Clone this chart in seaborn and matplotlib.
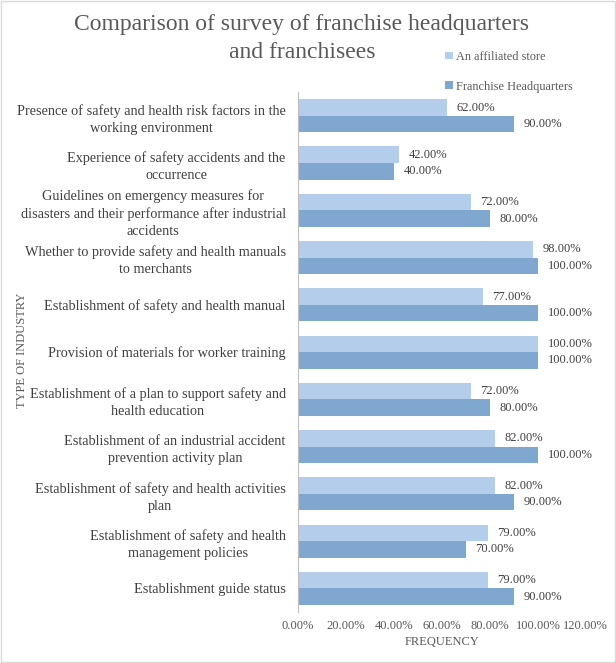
import matplotlib
matplotlib.use("Agg")
import matplotlib.pyplot as plt
import seaborn as sns
import pandas as pd
import numpy as np
from matplotlib.ticker import FuncFormatter, FixedLocator
from matplotlib.patches import Patch

categories = [
    "Presence of safety and health risk factors in the\nworking environment",
    "Experience of safety accidents and the\noccurrence",
    "Guidelines on emergency measures for\ndisasters and their performance after industrial\naccidents",
    "Whether to provide safety and health manuals\nto merchants",
    "Establishment of safety and health manual",
    "Provision of materials for worker training",
    "Establishment of a plan to support safety and\nhealth education",
    "Establishment of an industrial accident\nprevention activity plan",
    "Establishment of safety and health activities\nplan",
    "Establishment of safety and health\nmanagement policies",
    "Establishment guide status",
]
affiliated = [62, 42, 72, 98, 77, 100, 72, 82, 82, 79, 79]
headquarters = [90, 40, 80, 100, 100, 100, 80, 100, 90, 70, 90]
series_names = ["An affiliated store", "Franchise Headquarters"]
x_ticks = [0, 20, 40, 60, 80, 100, 120]
title_lines = ["Comparison of survey of franchise headquarters", "and franchisees"]

df = pd.DataFrame({
    "category": categories * 2,
    "value": affiliated + headquarters,
    "series": [series_names[0]] * len(categories) + [series_names[1]] * len(categories),
})

sns.set_theme(style="white")
plt.rcParams["font.family"] = ["Liberation Serif", "DejaVu Serif"]

colors = {series_names[0]: "#B4CDEA", series_names[1]: "#7FA7CF"}
fig = plt.figure(figsize=(6.16, 6.63), dpi=100)
ax = fig.add_axes([0.484, 0.077, 0.467, 0.784])

sns.barplot(data=df, x="value", y="category", hue="series", hue_order=series_names,
            palette=colors, orient="h", width=0.7, ax=ax, legend=False,
            saturation=1, linewidth=0)

ax.set_xlim(0, 120)
ax.xaxis.set_major_locator(FixedLocator(x_ticks))
ax.xaxis.set_major_formatter(FuncFormatter(lambda v, p: f"{v:.2f}%"))
ax.tick_params(axis="x", labelsize=9, colors="#595959", length=0, pad=6)
ax.tick_params(axis="y", labelsize=10.3, colors="#404040", length=0, pad=9)
for lab in ax.get_yticklabels():
    lab.set_horizontalalignment("right")
    lab.set_multialignment("center")
    lab.set_linespacing(1.4)

# boundary ticks on the y axis
n = len(categories)
ax.set_yticks(np.arange(-0.5, n, 1), minor=True)
ax.tick_params(axis="y", which="minor", length=4, color="#BFBFBF", width=0.8, direction="out")

for s in ["top", "right", "bottom"]:
    ax.spines[s].set_visible(False)
ax.spines["left"].set_color("#BFBFBF")
ax.spines["left"].set_linewidth(0.8)

for cont in ax.containers:
    for bar in cont:
        w = bar.get_width()
        ax.text(w + 4, bar.get_y() + bar.get_height() / 2, f"{w:.2f}%",
                va="center", ha="left", fontsize=9, color="#404040")

ax.set_xlabel("FREQUENCY", fontsize=9, color="#595959", labelpad=3)
ax.set_ylabel("")
fig.text(0.035, 0.472, "TYPE OF INDUSTRY", rotation=90, va="center", ha="center",
         fontsize=9, color="#595959")

fig.text(0.49, 0.963, title_lines[0], ha="center", va="center", fontsize=17, color="#595959")
fig.text(0.49, 0.921, title_lines[1], ha="center", va="center", fontsize=17, color="#595959")

handles = [Patch(facecolor=colors[s], edgecolor="none") for s in series_names]
leg = fig.legend(handles, series_names, loc="upper left", bbox_to_anchor=(0.705, 0.94),
                 frameon=False, fontsize=8.8, handlelength=0.6, handleheight=0.6,
                 handletextpad=0.3, labelspacing=1.45, labelcolor="#595959")

fig.patches.append(plt.Rectangle((0.002, 0.002), 0.996, 0.996, transform=fig.transFigure,
                                 fill=False, edgecolor="#D9D9D9", linewidth=1))
fig.savefig("out.png", dpi=100)
